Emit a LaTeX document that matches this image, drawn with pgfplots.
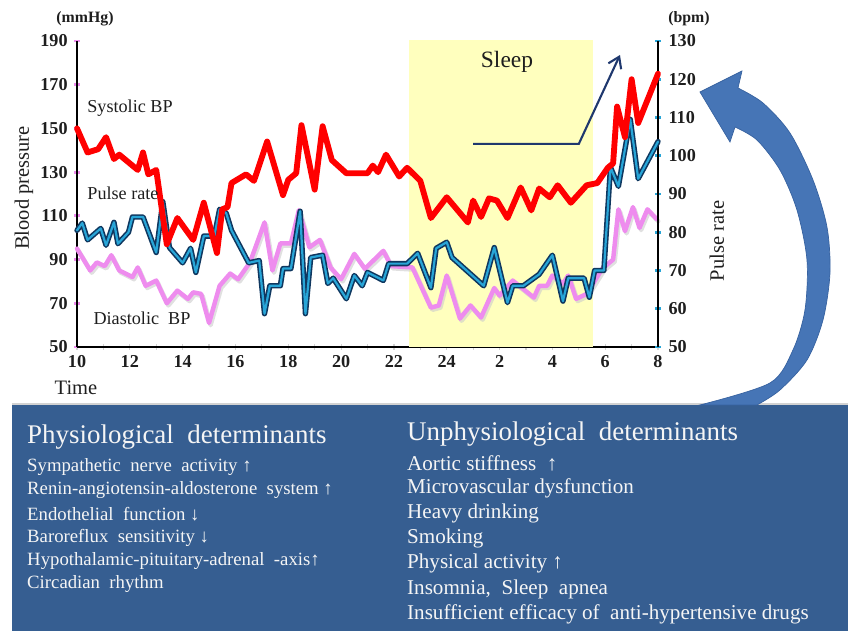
\documentclass[border=0pt]{standalone}
\usepackage{pgfplots}
\pgfplotsset{compat=1.18}
\usepackage{pgfplotstable}
\usepackage{fontspec}
\setmainfont{Liberation Serif}
\usetikzlibrary{arrows.meta}
\definecolor{boxblue}{RGB}{54,94,145}
\definecolor{arrowblue}{RGB}{70,117,182}
\definecolor{arrowdark}{RGB}{55,98,160}
\definecolor{sleepy}{RGB}{255,255,190}
\definecolor{navyline}{RGB}{31,56,110}
\definecolor{sysred}{RGB}{255,0,0}
\definecolor{diapink}{RGB}{238,140,238}
\definecolor{pulsecyan}{RGB}{40,165,215}
\definecolor{pulsedark}{RGB}{15,55,95}
\definecolor{txt}{RGB}{30,30,30}

\pgfplotstableread{
h v
10.0 150
10.4 139
10.8 140.5
11.1 146
11.4 136
11.6 138
12.3 131
12.5 139
12.7 129
13.0 131
13.4 97
13.8 109
14.4 99
14.8 116
15.3 93
15.5 113
15.7 114
15.85 125
16.4 129
16.7 126
17.2 144
17.8 119.5
18.0 126.5
18.3 129.5
18.5 151.5
19.0 122
19.3 151
19.65 135.5
20.2 129.5
21.0 129.5
21.2 133
21.4 130
21.7 138
22.2 128
22.5 132
23.0 126
23.4 109
24.0 118.5
24.8 107
25.0 117
25.3 109.5
25.6 118
25.9 117
26.3 109
26.8 123
27.2 112.5
27.5 122.5
27.9 118.5
28.2 124
28.7 116
29.3 124
29.7 125
30.1 132
30.3 134
30.45 160
30.75 146
31.0 172.5
31.25 152.5
32.0 175
}\systolic

\pgfplotstableread{
h v
10.0 95
10.5 85
10.75 88.7
11.05 87
11.3 92
11.6 85
12.1 82
12.3 86.4
12.6 78
13.0 80.4
13.4 70
13.8 75.8
14.2 72
14.4 75
14.7 74.3
15.0 61
15.4 78
15.8 83.6
16.1 81
16.55 88.7
17.1 107
17.4 85
17.7 97.4
18.1 97.4
18.4 112.6
18.8 95.6
19.2 99
19.6 86.4
20.0 81
20.5 92.6
20.9 85.8
21.6 94
21.9 87
22.7 86.4
23.4 68
23.7 69
24.0 82.7
24.5 63
24.9 69
25.3 63.5
25.8 77
26.0 73.5
26.5 80.4
27.3 72.6
27.5 78
27.8 78
28.0 82.7
28.4 79
28.6 82.7
28.9 72
29.3 74.3
29.9 86
30.3 90
30.5 113
30.75 103
31.05 114
31.3 104.5
31.6 113
31.95 108.5
}\diastolic

\pgfplotstableread{
h p
10.0 80.5
10.2 82.4
10.4 78
10.9 81
11.1 76.6
11.4 82.6
11.55 77
11.95 80
12.1 84
12.5 84
13.0 74.7
13.25 88
13.5 76
14.0 72
14.3 75.8
14.5 69.5
14.8 79
15.2 79
15.4 86
15.65 85
15.85 80.5
16.5 72
16.9 72.6
17.1 58.7
17.3 66
17.7 66
17.8 70.5
18.1 70.5
18.45 85.5
18.65 58.7
18.85 73.4
19.3 74
19.5 66.6
19.7 68
20.2 62.6
20.5 68.7
20.8 66
21.0 69.5
21.6 67.4
21.8 71.8
22.5 71.8
22.9 74.5
23.4 65.5
23.6 75.8
24.0 77.4
24.2 73.4
25.4 66
25.8 76
26.3 61.6
26.5 66
26.9 66
27.5 69
28.0 74
28.4 62
28.6 68
29.2 68
29.4 63
29.6 70
29.95 70
30.2 97
30.5 92
30.95 109.5
31.25 94
32.0 103.7
}\pulse

\pgfplotsset{
  base/.style={scale only axis, width=17.43cm, height=9.18cm,
    at={(2.31cm,8.49cm)}, anchor=south west, xmin=10, xmax=32, clip=false,
    /pgf/number format/assume math mode=true,
    ticklabel style={font=\fontsize{15.5}{15.5}\selectfont\bfseries, text=txt},
    major tick length=5pt, minor tick length=5pt},
}

\begin{document}
\begin{tikzpicture}
\path[use as bounding box] (0,0) rectangle (25.44cm,18.9cm);

% Axis 1: blood pressure (left), sleep band, diastolic
\begin{axis}[base, ymin=50, ymax=190, ytick={50,70,...,190},
  xtick={10,12,...,32}, xticklabels={10,12,14,16,18,20,22,24,2,4,6,8},
  minor x tick num=1,
  axis x line=bottom, axis y line=left,
  axis line style={-, line width=2.4pt, black},
  x tick style={gray!35, line width=1pt},
  y tick style={diapink, line width=2.5pt},
  xticklabel style={yshift=-1pt},
  yticklabel style={xshift=-2pt}]
  \fill[sleepy] (axis cs:22.57,50) rectangle (axis cs:29.54,190.5);
  \addplot[gray!40, opacity=0.6, line width=3.8pt, line join=round, line cap=round, forget plot]
    table[x=h,y=v, x expr=\thisrow{h}+0.06, y expr=\thisrow{v}-1.0] {\diastolic};
  \addplot[diapink, line width=3.8pt, line join=round, line cap=round] table[x=h,y=v] {\diastolic};
  \draw[navyline, line width=1.8pt, -{Straight Barb[length=9pt,width=12pt]}]
    (axis cs:25.0,142.9) -- (axis cs:29.0,142.9) -- (axis cs:30.56,183.6);
\end{axis}

% Axis 2: pulse rate (right)
\begin{axis}[base, ymin=50, ymax=130, ytick={50,60,...,130},
  axis y line=right, axis x line=none, xtick=\empty,
  axis line style={-, line width=2.4pt, black},
  y tick style={pulsecyan, line width=2.5pt},
  yticklabel style={xshift=3pt}]
  \addplot[pulsedark, line width=4.6pt, line join=round, line cap=round] table[x=h,y=p] {\pulse};
  \addplot[pulsecyan, line width=1.9pt, line join=round, line cap=round] table[x=h,y=p] {\pulse};
\end{axis}

% Axis 3: systolic on top
\begin{axis}[base, ymin=50, ymax=190, hide axis]
  \addplot[sysred, line width=5pt, line join=round, line cap=round] table[x=h,y=v] {\systolic};
\end{axis}

\begin{scope}[x=0.03cm,y=-0.03cm,yshift=18.9cm]
  % box
  \fill[boxblue] (12,404) rectangle (848,632);
  \draw[gray!35, line width=1.2pt] (12,404) -- (848,404);
  % curved arrow
  \fill[arrowblue, draw=arrowdark, line width=0.6pt] plot[smooth] coordinates {(757,405) (780,390) (807,360) (823,320) (830,273) (827,227) (813,180) (790,133) (763,103) (738,88)}
     -- (742,71) -- (700,92) -- (730,142)
     -- plot[smooth] coordinates {(735,127) (757,140) (780,170) (797,210) (807,260) (805,310) (793,350) (770,383) (700,405)} -- cycle;

  % axis annotations
  \node[font=\fontsize{13.5}{13.5}\selectfont\bfseries, text=txt] at (85,19) {(mmHg)};
  \node[font=\fontsize{13.5}{13.5}\selectfont\bfseries, text=txt] at (689,19) {(bpm)};
  \node[rotate=90, font=\fontsize{17.5}{17.5}\selectfont, text=txt] at (24,188) {Blood pressure};
  \node[font=\fontsize{17.5}{17.5}\selectfont, text=txt] at (76,388) {Time};
  \node[rotate=90, font=\fontsize{17.5}{17.5}\selectfont, text=txt] at (717,241) {Pulse rate};
  \node[font=\fontsize{15.5}{15.5}\selectfont, text=txt] at (130,108) {Systolic BP};
  \node[font=\fontsize{15.5}{15.5}\selectfont, text=txt] at (123,193) {Pulse rate};
  \node[font=\fontsize{15.5}{15.5}\selectfont, text=txt] at (142,318) {Diastolic\ \ BP};
  \node[font=\fontsize{20}{20}\selectfont, text=txt] at (507,62) {Sleep};

  % box texts
  \begin{scope}[every node/.style={anchor=west, inner sep=0pt, text=white!96!black}]
    \node[font=\fontsize{23}{23}\selectfont] at (27,437) {Physiological\ \ determinants};
    \node[font=\fontsize{16}{16}\selectfont] at (27,467) {Sympathetic\ \ nerve\ \ activity ↑};
    \node[font=\fontsize{16}{16}\selectfont] at (27,490.5) {Renin-angiotensin-aldosterone\ \ system ↑};
    \node[font=\fontsize{16}{16}\selectfont] at (27,514) {Endothelial\ \ function ↓};
    \node[font=\fontsize{16}{16}\selectfont] at (27,537.5) {Baroreflux\ \ sensitivity ↓};
    \node[font=\fontsize{16}{16}\selectfont] at (27,561) {Hypothalamic-pituitary-adrenal\ \ -axis↑};
    \node[font=\fontsize{16}{16}\selectfont] at (27,584) {Circadian\ \ rhythm};

    \node[font=\fontsize{23}{23}\selectfont] at (407,434) {Unphysiological\ \ determinants};
    \node[font=\fontsize{18}{18}\selectfont] at (407,463) {Aortic stiffness\ \ ↑};
    \node[font=\fontsize{18}{18}\selectfont] at (407,488) {Microvascular dysfunction};
    \node[font=\fontsize{18}{18}\selectfont] at (407,513) {Heavy drinking};
    \node[font=\fontsize{18}{18}\selectfont] at (407,538) {Smoking};
    \node[font=\fontsize{18}{18}\selectfont] at (407,563) {Physical activity ↑};
    \node[font=\fontsize{18}{18}\selectfont] at (407,589) {Insomnia,\ \ Sleep\ \ apnea};
    \node[font=\fontsize{18}{18}\selectfont] at (407,614) {Insufficient efficacy of\ \ anti-hypertensive drugs};
  \end{scope}
\end{scope}
\end{tikzpicture}
\end{document}
